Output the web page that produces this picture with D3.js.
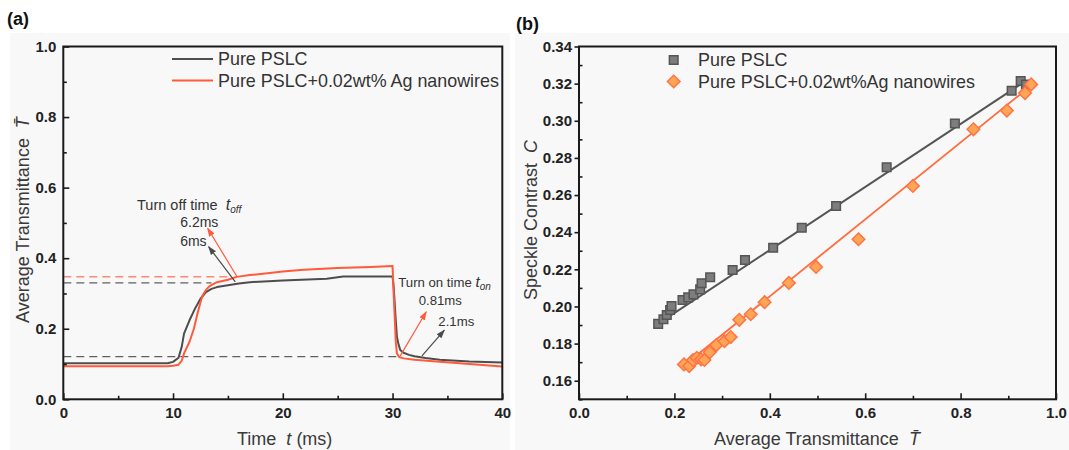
<!DOCTYPE html>
<html>
<head>
<meta charset="utf-8">
<script src="https://cdn.jsdelivr.net/npm/d3@7"></script>
<style>
  html, body { margin: 0; padding: 0; background: #fff; }
  svg { display: block; font-family: Arial, "Liberation Sans", Helvetica, sans-serif; }
</style>
</head>
<body>
<svg id="fig" width="1069" height="450"></svg>
<script>
// ---------- (a) transmittance response ----------
const pureTime = [0, 5, 9.5, 10, 10.5, 10.8, 11, 11.5, 12, 12.5, 13, 13.5, 14, 15, 16, 17, 20, 24, 25.5, 30,
                  30.1, 30.2, 30.3, 30.4, 30.55, 30.7, 31, 31.5, 32, 33, 34.3, 37, 40];
const pureT    = [0.102, 0.102, 0.102, 0.106, 0.118, 0.15, 0.186, 0.224, 0.257, 0.285, 0.304, 0.313, 0.318, 0.323, 0.328, 0.332, 0.337, 0.342, 0.348, 0.348,
                  0.32, 0.27, 0.22, 0.177, 0.155, 0.14, 0.132, 0.126, 0.122, 0.117, 0.112, 0.107, 0.104];
const agTime   = [0, 5, 9.5, 10, 10.5, 10.8, 11, 11.5, 11.9, 12.2, 12.5, 12.7, 13, 13.3, 13.7, 14, 15, 15.8, 17, 18.8, 20, 21.9, 25, 28, 30,
                  30.1, 30.3, 30.4, 30.6, 31, 32, 34, 37, 40];
const agT      = [0.094, 0.094, 0.094, 0.095, 0.098, 0.11, 0.13, 0.163, 0.2, 0.24, 0.275, 0.295, 0.31, 0.32, 0.327, 0.332, 0.339, 0.347, 0.352, 0.358, 0.362, 0.367, 0.372, 0.375, 0.378,
                  0.3, 0.16, 0.13, 0.12, 0.116, 0.112, 0.107, 0.1, 0.093];
const seriesNamesA = ["Pure PSLC", "Pure PSLC+0.02wt% Ag nanowires"];
const timeTicks = [0, 10, 20, 30, 40];
const timeMinor = [5, 15, 25, 35];
const transTicks = [0, 0.2, 0.4, 0.6, 0.8, 1.0];
const transMinor = [0.1, 0.3, 0.5, 0.7, 0.9];
// reference levels (dashed) : [value, end time]
const levelOffPure = [0.330, 13.5];
const levelOffAg   = [0.3475, 15.2];
const levelOn      = [0.121, 30.7];

// ---------- (b) speckle contrast vs transmittance ----------
const pureX = [0.166, 0.177, 0.184, 0.191, 0.194, 0.217, 0.229, 0.240, 0.254, 0.257, 0.275, 0.322, 0.348, 0.407, 0.467, 0.539, 0.645, 0.788, 0.907, 0.926, 0.937];
const pureC = [0.1906, 0.1931, 0.1954, 0.1981, 0.2002, 0.2035, 0.2049, 0.2065, 0.2092, 0.2125, 0.2157, 0.2196, 0.2250, 0.2316, 0.2424, 0.2541, 0.2750, 0.2985, 0.3162, 0.3214, 0.3195];
const agX   = [0.220, 0.231, 0.239, 0.247, 0.256, 0.263, 0.274, 0.288, 0.305, 0.318, 0.336, 0.360, 0.389, 0.440, 0.497, 0.586, 0.700, 0.827, 0.897, 0.935, 0.948];
const agC   = [0.1688, 0.1679, 0.1711, 0.1723, 0.1715, 0.1712, 0.1753, 0.1792, 0.1813, 0.1835, 0.1928, 0.1958, 0.2023, 0.2127, 0.2213, 0.2362, 0.2649, 0.2954, 0.3055, 0.3149, 0.3196];
const pureFit = [[0.168, 0.1910], [0.935, 0.3212]];
const agFit   = [[0.222, 0.1686], [0.952, 0.3198]];
const seriesNamesB = ["Pure PSLC", "Pure PSLC+0.02wt%Ag nanowires"];
const avgTicks = [0, 0.2, 0.4, 0.6, 0.8, 1.0];
const avgMinor = [0.1, 0.3, 0.5, 0.7, 0.9];
const contrastTicks = [0.16, 0.18, 0.20, 0.22, 0.24, 0.26, 0.28, 0.30, 0.32, 0.34];
const contrastMinor = [0.15, 0.17, 0.19, 0.21, 0.23, 0.25, 0.27, 0.29, 0.31, 0.33];

const GRAY = "#4d4d4d", RED = "#ff5a3c", ORANGE = "#ff6d3f";
const NB = "\u00a0";
const svg = d3.select("#fig");

// panel backdrops
svg.append("rect").attr("x", 10).attr("y", 33).attr("width", 500).attr("height", 417).attr("fill", "#f8f8f8");
svg.append("rect").attr("x", 515).attr("y", 33).attr("width", 554).attr("height", 417).attr("fill", "#f8f8f8");

// arrowheads
const defs = svg.append("defs");
[["arrRed", RED], ["arrGray", "#4a4a4a"]].forEach(([id, c]) => {
  defs.append("marker").attr("id", id).attr("viewBox", "0 0 10 10").attr("refX", 9).attr("refY", 5)
    .attr("markerWidth", 9).attr("markerHeight", 9).attr("orient", "auto-start-reverse")
    .attr("markerUnits", "userSpaceOnUse")
    .append("path").attr("d", "M0,1.5 L10,5 L0,8.5 Z").attr("fill", c);
});

function styleTicks(g, size) {
  g.select(".domain").remove();
  g.selectAll(".tick line").attr("stroke", "#1a1a1a").attr("stroke-width", 1.6);
  g.selectAll(".tick text").attr("fill", "#222").attr("font-size", size).attr("font-weight", "bold")
    .attr("font-family", "Arial, 'Liberation Sans', sans-serif");
}

// ================= panel (a) =================
const xA = d3.scaleLinear().domain([0, 40]).range([63.3, 502.3]);
const yA = d3.scaleLinear().domain([0, 1]).range([399.3, 46.5]);

svg.append("text").attr("x", 7).attr("y", 25).attr("font-size", 18).attr("font-weight", "bold").attr("fill", "#111").text("(a)");

defs.append("clipPath").attr("id", "clipA").append("rect")
  .attr("x", xA(0)).attr("y", yA(1)).attr("width", xA(40) - xA(0)).attr("height", yA(0) - yA(1));
const gA = svg.append("g").attr("clip-path", "url(#clipA)");

// dashed reference levels
gA.append("line").attr("x1", xA(0)).attr("x2", xA(levelOffAg[1])).attr("y1", yA(levelOffAg[0])).attr("y2", yA(levelOffAg[0]))
  .attr("stroke", "#ff8a74").attr("stroke-width", 1.4).attr("stroke-dasharray", "8,5");
gA.append("line").attr("x1", xA(0)).attr("x2", xA(levelOffPure[1])).attr("y1", yA(levelOffPure[0])).attr("y2", yA(levelOffPure[0]))
  .attr("stroke", "#606060").attr("stroke-width", 1.4).attr("stroke-dasharray", "8,5");
gA.append("line").attr("x1", xA(0)).attr("x2", xA(levelOn[1])).attr("y1", yA(levelOn[0])).attr("y2", yA(levelOn[0]))
  .attr("stroke", "#606060").attr("stroke-width", 1.4).attr("stroke-dasharray", "8,5");

const lineA = d3.line().x(d => xA(d[0])).y(d => yA(d[1]));
gA.append("path").datum(pureTime.map((t, i) => [t, pureT[i]])).attr("d", lineA)
  .attr("fill", "none").attr("stroke", GRAY).attr("stroke-width", 2).attr("stroke-linejoin", "round");
gA.append("path").datum(agTime.map((t, i) => [t, agT[i]])).attr("d", lineA)
  .attr("fill", "none").attr("stroke", RED).attr("stroke-width", 2).attr("stroke-linejoin", "round");

// annotation arrows (from curve to label)
const arrowsA = [
  { from: [15.83, 0.3475], to: [13.15, 0.485], c: RED, m: "arrRed" },
  { from: [15.67, 0.333], to: [13.24, 0.4325], c: "#4a4a4a", m: "arrGray" },
  { from: [30.7, 0.123], to: [33.07, 0.248], c: RED, m: "arrRed" },
  { from: [32.68, 0.123], to: [34.72, 0.196], c: "#4a4a4a", m: "arrGray" }
];
arrowsA.forEach(a => {
  svg.append("line").attr("x1", xA(a.from[0])).attr("y1", yA(a.from[1])).attr("x2", xA(a.to[0])).attr("y2", yA(a.to[1]))
    .attr("stroke", a.c).attr("stroke-width", 1.2).attr("marker-end", `url(#${a.m})`);
});

// annotation text
const offLabel = svg.append("text").attr("x", xA(6.72)).attr("y", yA(0.551)).attr("dy", "0.35em")
  .attr("font-size", 14.5).attr("fill", "#333");
offLabel.append("tspan").text("Turn off time" + NB + NB);
offLabel.append("tspan").attr("font-style", "italic").attr("font-size", 16).text("t");
offLabel.append("tspan").attr("font-style", "italic").attr("font-size", 10).attr("dy", 3).text("off");

svg.append("text").attr("x", xA(12.39)).attr("y", yA(0.503)).attr("dy", "0.35em").attr("text-anchor", "middle")
  .attr("font-size", 14).attr("fill", "#333").text("6.2ms");
svg.append("text").attr("x", xA(11.85)).attr("y", yA(0.449)).attr("dy", "0.35em").attr("text-anchor", "middle")
  .attr("font-size", 14).attr("fill", "#333").text("6ms");

const onLabel = svg.append("text").attr("x", xA(30.52)).attr("y", yA(0.330)).attr("dy", "0.35em")
  .attr("font-size", 13.2).attr("fill", "#333");
onLabel.append("tspan").text("Turn on time ");
onLabel.append("tspan").attr("font-style", "italic").attr("font-size", 15).text("t");
onLabel.append("tspan").attr("font-style", "italic").attr("font-size", 10).attr("dy", 3).text("on");

svg.append("text").attr("x", xA(34.35)).attr("y", yA(0.279)).attr("dy", "0.35em").attr("text-anchor", "middle")
  .attr("font-size", 13.2).attr("fill", "#333").text("0.81ms");
svg.append("text").attr("x", xA(35.81)).attr("y", yA(0.22)).attr("dy", "0.35em").attr("text-anchor", "middle")
  .attr("font-size", 13.2).attr("fill", "#333").text("2.1ms");

// axes (a)
svg.append("g").attr("transform", `translate(0,${yA(0)})`)
  .call(d3.axisBottom(xA).tickValues(timeMinor).tickSizeInner(-3.5).tickSizeOuter(0).tickFormat(""))
  .call(g => styleTicks(g, 15));
svg.append("g").attr("transform", `translate(0,${yA(0)})`)
  .call(d3.axisBottom(xA).tickValues(timeTicks).tickSizeInner(-6).tickSizeOuter(0).tickPadding(8).tickFormat(d3.format("d")))
  .call(g => styleTicks(g, 15));
svg.append("g").attr("transform", `translate(${xA(0)},0)`)
  .call(d3.axisLeft(yA).tickValues(transMinor).tickSizeInner(-3.5).tickSizeOuter(0).tickFormat(""))
  .call(g => styleTicks(g, 15));
svg.append("g").attr("transform", `translate(${xA(0)},0)`)
  .call(d3.axisLeft(yA).tickValues(transTicks).tickSizeInner(-6).tickSizeOuter(0).tickPadding(7).tickFormat(d3.format(".1f")))
  .call(g => styleTicks(g, 15));
svg.append("rect").attr("x", xA(0)).attr("y", yA(1)).attr("width", xA(40) - xA(0)).attr("height", yA(0) - yA(1))
  .attr("fill", "none").attr("stroke", "#1a1a1a").attr("stroke-width", 2);

// legend (a)
seriesNamesA.forEach((name, i) => {
  const y = 59 + i * 21.5;
  svg.append("line").attr("x1", 172).attr("x2", 213).attr("y1", y).attr("y2", y)
    .attr("stroke", i === 0 ? GRAY : RED).attr("stroke-width", 2);
  svg.append("text").attr("x", 218).attr("y", y).attr("dy", "0.35em").attr("font-size", 17.9).attr("fill", "#333").text(name);
});

// axis titles (a)
const yTitleA = svg.append("text").attr("transform", `translate(29,220) rotate(-90)`).attr("text-anchor", "middle")
  .attr("font-size", 18).attr("fill", "#3a3a3a");
yTitleA.append("tspan").text("Average Transmittance" + NB + NB);
yTitleA.append("tspan").attr("font-style", "italic").text("T\u0304");
const xTitleA = svg.append("text").attr("x", 284.7).attr("y", 445).attr("text-anchor", "middle")
  .attr("font-size", 18).attr("fill", "#3a3a3a");
xTitleA.append("tspan").text("Time" + NB + NB);
xTitleA.append("tspan").attr("font-style", "italic").text("t");
xTitleA.append("tspan").text(NB + "(ms)");

// ================= panel (b) =================
const xB = d3.scaleLinear().domain([0, 1]).range([579, 1056]);
const yB = d3.scaleLinear().domain([0.15, 0.34]).range([399.3, 46.5]);

svg.append("text").attr("x", 516).attr("y", 30).attr("font-size", 18).attr("font-weight", "bold").attr("fill", "#111").text("(b)");

const gB = svg.append("g");

const lineB = d3.line().x(d => xB(d[0])).y(d => yB(d[1]));
gB.append("path").datum(pureFit).attr("d", lineB).attr("fill", "none").attr("stroke", "#555").attr("stroke-width", 2);
gB.append("path").datum(agFit).attr("d", lineB).attr("fill", "none").attr("stroke", ORANGE).attr("stroke-width", 1.8);

const sq = 8.6, dm = 6.3;
const squarePath = `M${-sq/2},${-sq/2}h${sq}v${sq}h${-sq}Z`;
const diamondPath = `M0,${-dm}L${dm},0L0,${dm}L${-dm},0Z`;

gB.selectAll("path.sq").data(pureX.map((x, i) => [x, pureC[i]])).join("path").attr("class", "sq")
  .attr("d", squarePath).attr("transform", d => `translate(${xB(d[0])},${yB(d[1])})`)
  .attr("fill", "#7d7d7d").attr("stroke", "#555").attr("stroke-width", 1.5);
gB.selectAll("path.dm").data(agX.map((x, i) => [x, agC[i]])).join("path").attr("class", "dm")
  .attr("d", diamondPath).attr("transform", d => `translate(${xB(d[0])},${yB(d[1])})`)
  .attr("fill", "#ffa656").attr("stroke", "#ff7445").attr("stroke-width", 1.5);

// axes (b)
svg.append("g").attr("transform", `translate(0,${yB(0.15)})`)
  .call(d3.axisBottom(xB).tickValues(avgMinor).tickSizeInner(-3.5).tickSizeOuter(0).tickFormat(""))
  .call(g => styleTicks(g, 15));
svg.append("g").attr("transform", `translate(0,${yB(0.15)})`)
  .call(d3.axisBottom(xB).tickValues(avgTicks).tickSizeInner(-6).tickSizeOuter(0).tickPadding(8).tickFormat(d3.format(".1f")))
  .call(g => styleTicks(g, 15));
svg.append("g").attr("transform", `translate(${xB(0)},0)`)
  .call(d3.axisLeft(yB).tickValues(contrastMinor).tickSizeInner(-3.5).tickSizeOuter(0).tickFormat(""))
  .call(g => styleTicks(g, 15));
svg.append("g").attr("transform", `translate(${xB(0)},0)`)
  .call(d3.axisLeft(yB).tickValues(contrastTicks).tickSizeInner(4.5).tickSizeOuter(0).tickPadding(2.5).tickFormat(d3.format(".2f")))
  .call(g => styleTicks(g, 15));
svg.append("rect").attr("x", xB(0)).attr("y", yB(0.34)).attr("width", xB(1) - xB(0)).attr("height", yB(0.15) - yB(0.34))
  .attr("fill", "none").attr("stroke", "#1a1a1a").attr("stroke-width", 2);

// legend (b)
seriesNamesB.forEach((name, i) => {
  const y = 60 + i * 21.5;
  svg.append("path").attr("d", i === 0 ? squarePath : diamondPath).attr("transform", `translate(673.7,${y})`)
    .attr("fill", i === 0 ? "#7d7d7d" : "#ffa656").attr("stroke", i === 0 ? "#555" : "#ff7445").attr("stroke-width", 1.5);
  svg.append("text").attr("x", 698).attr("y", y).attr("dy", "0.35em").attr("font-size", 17.9).attr("fill", "#333").text(name);
});

// axis titles (b)
const yTitleB = svg.append("text").attr("transform", `translate(537,220) rotate(-90)`).attr("text-anchor", "middle")
  .attr("font-size", 18).attr("fill", "#3a3a3a");
yTitleB.append("tspan").text("Speckle Contrast" + NB + NB);
yTitleB.append("tspan").attr("font-style", "italic").text("C");
const xTitleB = svg.append("text").attr("x", 817).attr("y", 445).attr("text-anchor", "middle")
  .attr("font-size", 18).attr("fill", "#3a3a3a");
xTitleB.append("tspan").text("Average Transmittance" + NB + NB);
xTitleB.append("tspan").attr("font-style", "italic").text("T\u0304");
</script>
</body>
</html>
